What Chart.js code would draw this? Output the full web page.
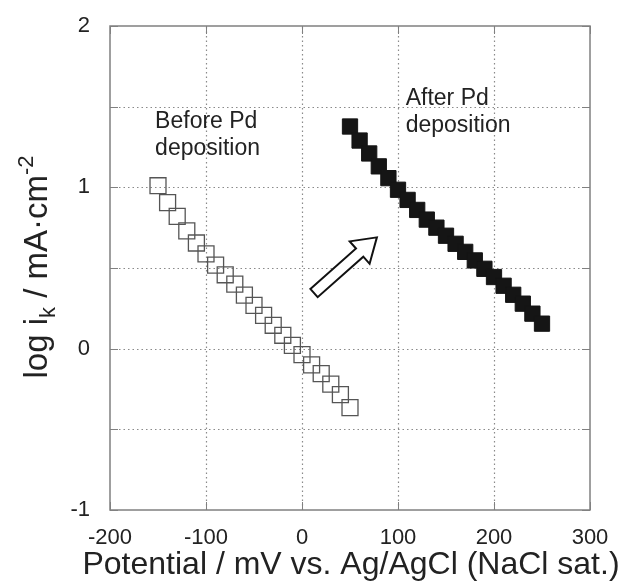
<!DOCTYPE html>
<html>
<head>
<meta charset="utf-8">
<script src="https://cdn.jsdelivr.net/npm/chart.js@4"></script>
<style>
  html, body { margin: 0; padding: 0; background: #fff; }
  #wrap { width: 622px; height: 581px; position: relative; }
</style>
</head>
<body>
<div id="wrap"><canvas id="tafelChart"></canvas></div>
<script>
// --- Data ---
const potentialBefore = [-150, -140, -130, -120, -110, -100, -90, -80, -70, -60, -50,
                         -40, -30, -20, -10, 0, 10, 20, 30, 40, 50];
const logIkBefore = [1.01, 0.905, 0.82, 0.73, 0.655, 0.587, 0.518, 0.458, 0.40, 0.332, 0.268,
                     0.206, 0.145, 0.083, 0.02, -0.037, -0.10, -0.155, -0.22, -0.285, -0.365];

const potentialAfter = [50, 60, 70, 80, 90, 100, 110, 120, 130, 140, 150,
                        160, 170, 180, 190, 200, 210, 220, 230, 240, 250];
const logIkAfter = [1.377, 1.29, 1.21, 1.13, 1.057, 0.985, 0.922, 0.86, 0.80, 0.75, 0.70,
                    0.65, 0.60, 0.547, 0.495, 0.444, 0.39, 0.334, 0.279, 0.217, 0.155];

const xTickLabels = [-200, -100, 0, 100, 200, 300];
const yTickLabels = [-1, 0, 1, 2];

const FONT = '"Liberation Sans", Arial, sans-serif';
const INK = '#222';
const FRAME = '#808080';

const toPoints = (xs, ys) => xs.map((x, i) => ({ x: x, y: ys[i] }));

// --- Dotted grid, frame, inward ticks, titles and annotations ---
const decorations = {
    id: 'decorations',
    beforeDatasetsDraw(chart) {
        const { ctx, chartArea: a, scales: { x, y } } = chart;
        ctx.save();
        ctx.strokeStyle = '#8a8a8a';
        ctx.lineWidth = 1.2;
        ctx.setLineDash([1.5, 3]);
        ctx.beginPath();
        x.ticks.forEach(t => {
            const px = Math.round(x.getPixelForValue(t.value)) + 0.5;
            if (px > a.left + 2 && px < a.right - 2) { ctx.moveTo(px, a.bottom); ctx.lineTo(px, a.top); }
        });
        y.ticks.forEach(t => {
            const py = Math.round(y.getPixelForValue(t.value)) + 0.5;
            if (py > a.top + 2 && py < a.bottom - 2) { ctx.moveTo(a.left, py); ctx.lineTo(a.right, py); }
        });
        ctx.stroke();
        ctx.restore();
    },
    afterDraw(chart) {
        const { ctx, chartArea: a, scales: { x, y } } = chart;
        ctx.save();

        // box around the plot
        ctx.strokeStyle = FRAME;
        ctx.lineWidth = 1.5;
        ctx.strokeRect(a.left, a.top, a.right - a.left, a.bottom - a.top);

        // short solid ticks pointing inward on all four sides
        ctx.lineWidth = 1;
        const tl = 8;
        ctx.beginPath();
        x.ticks.forEach(t => {
            const px = Math.round(x.getPixelForValue(t.value)) + 0.5;
            ctx.moveTo(px, a.bottom); ctx.lineTo(px, a.bottom - tl);
            ctx.moveTo(px, a.top); ctx.lineTo(px, a.top + tl);
        });
        y.ticks.forEach(t => {
            const py = Math.round(y.getPixelForValue(t.value)) + 0.5;
            ctx.moveTo(a.left, py); ctx.lineTo(a.left + tl, py);
            ctx.moveTo(a.right, py); ctx.lineTo(a.right - tl, py);
        });
        ctx.stroke();

        ctx.fillStyle = INK;
        ctx.textBaseline = 'alphabetic';

        // x axis title
        ctx.font = '32px ' + FONT;
        ctx.textAlign = 'center';
        ctx.fillText('Potential / mV vs. Ag/AgCl (NaCl sat.)', 351, 574);

        // y axis title: log i_k / mA·cm^-2, written bottom to top
        const big = '33px ' + FONT, small = '22px ' + FONT;
        const parts = [
            { t: 'log i', f: big, dy: 0 },
            { t: 'k', f: small, dy: 8 },
            { t: ' / mA\u00B7cm', f: big, dy: 0 },
            { t: '-2', f: small, dy: -14 }
        ];
        let total = 0;
        parts.forEach(p => { ctx.font = p.f; p.w = ctx.measureText(p.t).width; total += p.w; });
        ctx.translate(47, 267);
        ctx.rotate(-Math.PI / 2);
        ctx.textAlign = 'left';
        let cx = -total / 2;
        parts.forEach(p => {
            ctx.font = p.f;
            ctx.fillText(p.t, cx, p.dy);
            cx += p.w;
        });
        ctx.setTransform(1, 0, 0, 1, 0, 0);

        // series labels
        ctx.font = '23px ' + FONT;
        ctx.textAlign = 'left';
        const bx = x.getPixelForValue(-153), by = y.getPixelForValue(1.368);
        ctx.fillText('Before Pd', bx, by);
        ctx.fillText('deposition', bx, by + 27);
        const ax = x.getPixelForValue(108), ay = y.getPixelForValue(1.51);
        ctx.fillText('After Pd', ax, ay);
        ctx.fillText('deposition', ax, ay + 27);

        // hollow arrow between the two data sets
        const x0 = x.getPixelForValue(12.5), y0 = y.getPixelForValue(0.345);
        const x1 = x.getPixelForValue(78), y1 = y.getPixelForValue(0.69);
        const len = Math.hypot(x1 - x0, y1 - y0);
        const ang = Math.atan2(y1 - y0, x1 - x0);
        const headLen = 23, headHalf = 15, shaftHalf = 5.5;
        ctx.translate(x0, y0);
        ctx.rotate(ang);
        ctx.beginPath();
        ctx.moveTo(0, -shaftHalf);
        ctx.lineTo(len - headLen, -shaftHalf);
        ctx.lineTo(len - headLen, -headHalf);
        ctx.lineTo(len, 0);
        ctx.lineTo(len - headLen, headHalf);
        ctx.lineTo(len - headLen, shaftHalf);
        ctx.lineTo(0, shaftHalf);
        ctx.closePath();
        ctx.fillStyle = '#fff';
        ctx.fill();
        ctx.strokeStyle = '#111';
        ctx.lineWidth = 2;
        ctx.lineJoin = 'miter';
        ctx.stroke();

        ctx.restore();
    }
};

new Chart(document.getElementById('tafelChart').getContext('2d'), {
    type: 'scatter',
    data: {
        datasets: [{
            label: 'Before Pd deposition',
            data: toPoints(potentialBefore, logIkBefore),
            pointStyle: 'rect',
            pointRadius: 11.3,
            pointBorderWidth: 1.3,
            borderColor: '#555',
            backgroundColor: 'rgba(0,0,0,0)'
        }, {
            label: 'After Pd deposition',
            data: toPoints(potentialAfter, logIkAfter),
            pointStyle: 'rect',
            pointRadius: 10.8,
            pointBorderWidth: 1,
            borderColor: '#151515',
            backgroundColor: '#151515'
        }]
    },
    options: {
        responsive: true,
        maintainAspectRatio: false,
        animation: false,
        events: [],
        layout: { padding: { left: 0, top: 26, right: 32, bottom: 0 } },
        plugins: { legend: { display: false }, tooltip: { enabled: false } },
        scales: {
            x: {
                type: 'linear',
                min: -200, max: 300,
                afterFit: s => { s.height = 71; },
                border: { display: false },
                grid: { display: false },
                ticks: {
                    stepSize: 100, padding: 7, color: INK,
                    font: { family: FONT, size: 22 },
                    callback: v => xTickLabels.includes(v) ? String(v) : ''
                }
            },
            y: {
                type: 'linear',
                min: -1, max: 2,
                afterFit: s => { s.width = 110; },
                border: { display: false },
                grid: { display: false },
                ticks: {
                    stepSize: 0.5, padding: 12, color: INK,
                    font: { family: FONT, size: 22 },
                    callback: v => yTickLabels.includes(v) ? String(v) : ''
                }
            }
        }
    },
    plugins: [decorations]
});
</script>
</body>
</html>
